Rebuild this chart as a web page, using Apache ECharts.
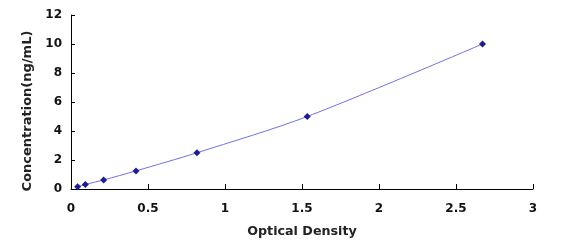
<!DOCTYPE html>
<html><head><meta charset="utf-8">
<script src="https://cdn.jsdelivr.net/npm/echarts@6/dist/echarts.min.js"></script>
<style>html,body{margin:0;padding:0;background:#fff}#c{width:581px;height:242px}</style>
</head><body><div id="c"></div>
<script>
const odValues = [0.043, 0.093, 0.212, 0.422, 0.818, 1.534, 2.672];
const concValues = [0.156, 0.312, 0.625, 1.25, 2.5, 5, 10];
const xTicks = [0, 0.5, 1, 1.5, 2, 2.5, 3];
const yTicks = [0, 2, 4, 6, 8, 10, 12];

const chart = echarts.init(document.getElementById('c'));
const font = '"DejaVu Sans", sans-serif';
chart.setOption({
  animation: false,
  grid: {left: 71, right: 48, top: 15, bottom: 53, containLabel: false, outerBoundsMode: 'none'},
  xAxis: {
    type: 'value', min: 0, max: 3, interval: 0.5,
    name: 'Optical Density', nameLocation: 'middle', nameGap: 36,
    nameTextStyle: {fontFamily: font, fontWeight: 'bold', fontSize: 12.7, color: '#222'},
    axisLine: {lineStyle: {color: '#000', width: 1}},
    axisTick: {inside: true, length: 5, lineStyle: {color: '#000'}},
    axisLabel: {fontFamily: font, fontWeight: 'bold', fontSize: 12, color: '#111', margin: 14,
      formatter: v => String(v)},
    splitLine: {show: false}
  },
  yAxis: {
    type: 'value', min: 0, max: 12, interval: 2,
    name: 'Concentration(ng/mL)', nameLocation: 'middle', nameGap: 33,
    nameTextStyle: {fontFamily: font, fontWeight: 'bold', fontSize: 13, color: '#222', padding: [0, 18, 0, 0]},
    axisLine: {show: true, lineStyle: {color: '#000', width: 1}},
    axisTick: {show: true, inside: true, length: 4, lineStyle: {color: '#000'}},
    axisLabel: {fontFamily: font, fontWeight: 'bold', fontSize: 12, color: '#111', margin: 9},
    splitLine: {show: false}
  },
  series: [{
    type: 'line',
    data: odValues.map((x, i) => [x, concValues[i]]),
    smooth: 0.3,
    symbol: 'diamond', symbolSize: 7,
    itemStyle: {color: '#1c1c96'},
    lineStyle: {color: '#6f6fe8', width: 1}
  }]
});
</script></body></html>
